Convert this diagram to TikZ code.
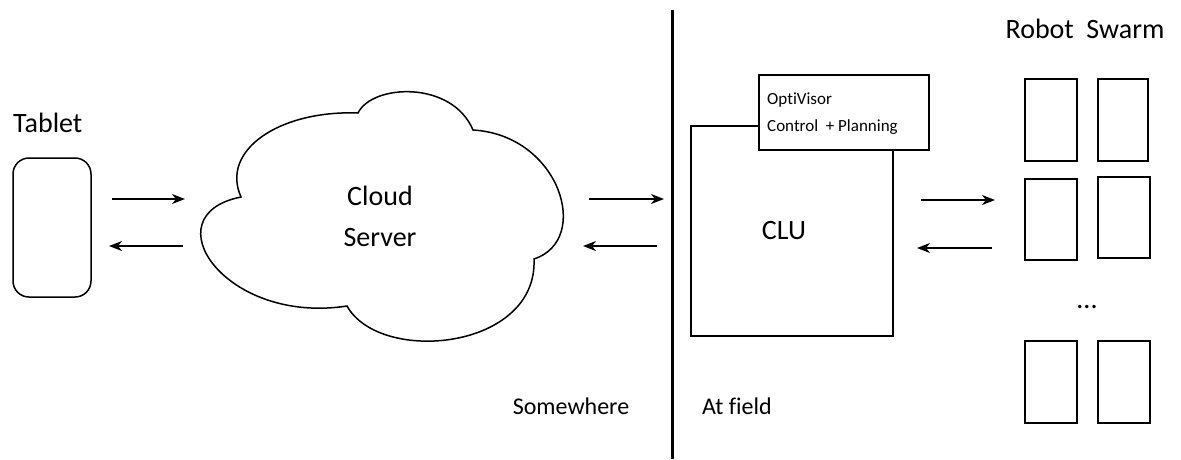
\documentclass[tikz,border=0pt]{standalone}
\usepackage{fontspec}
\setmainfont{Carlito}[RawFeature=-liga]
\usetikzlibrary{arrows.meta}
\begin{document}
\begin{tikzpicture}[x=1pt,y=-1pt,
  shape line/.style={draw=black, line width=1.5pt},
  flow/.style={draw=black, line width=1.5pt, -{Stealth[length=13pt,width=10pt,inset=4pt]}},
  bigtext/.style={font=\fontsize{28}{41}\selectfont, inner sep=0pt},
  midtext/.style={font=\fontsize{24}{30}\selectfont, inner sep=0pt},
  smalltext/.style={font=\fontsize{17}{27}\selectfont, inner sep=0pt},
  robot/.style={shape line, fill=white}]
\useasboundingbox (0,0) rectangle (1181,459);
% Tablet
\node[bigtext, anchor=base west] (tabletlabel) at (13,132) {Tablet};
\draw[shape line, rounded corners=16pt] (13,158) rectangle (91,297);
% Cloud
\draw[shape line] (241,197) .. controls (220,150) and (280,110) .. (358,113)
  .. controls (372,84) and (452,80) .. (473,130)
  .. controls (560,135) and (592,240) .. (534,259)
  .. controls (538,350) and (380,365) .. (347,306)
  .. controls (225,325) and (150,215) .. cycle;
\node[bigtext, align=center] (cloud) at (380,216) {Cloud\\Server};
% arrows tablet <-> cloud
\coordinate (a1s) at (112,199); \coordinate (a1e) at (185,199);
\coordinate (a2s) at (183,246); \coordinate (a2e) at (109,246);
\draw[flow] (a1s) -- (a1e);
\draw[flow] (a2s) -- (a2e);
% arrows cloud <-> CLU
\coordinate (b1s) at (589,199); \coordinate (b1e) at (664,199);
\coordinate (b2s) at (657,246); \coordinate (b2e) at (583,246);
\draw[flow] (b1s) -- (b1e);
\draw[flow] (b2s) -- (b2e);
% divider
\coordinate (divtop) at (672,10); \coordinate (divbot) at (672,459);
\draw[line width=3pt] (divtop) -- (divbot);
\node[midtext, anchor=base] (somewhere) at (571,414) {Somewhere};
\node[midtext, anchor=base] (atfield) at (737,414) {At field};
% CLU
\draw[shape line] (691,126) rectangle (893,336);
\node[bigtext] (clu) at (784,231) {CLU};
\draw[shape line, fill=white] (759,75) rectangle (929,150);
\node[smalltext, anchor=base west] (opti1) at (767,104) {OptiVisor};
\node[smalltext, anchor=base west] (opti2) at (767,131) {Control \ + Planning};
% arrows CLU <-> robots
\coordinate (c1s) at (921,200); \coordinate (c1e) at (995,200);
\coordinate (c2s) at (992,248); \coordinate (c2e) at (917,248);
\draw[flow] (c1s) -- (c1e);
\draw[flow] (c2s) -- (c2e);
% robots
\node[bigtext, anchor=base] (swarm) at (1085,38) {Robot \ Swarm};
\draw[robot] (1025,79) rectangle (1077,161);
\draw[robot] (1098,79) rectangle (1148,161);
\draw[robot] (1025,179) rectangle (1077,260);
\draw[robot] (1098,177) rectangle (1150,258);
\node[bigtext, anchor=base] (dots) at (1087,308) {...};
\draw[robot] (1025,341) rectangle (1077,423);
\draw[robot] (1098,341) rectangle (1150,423);
\end{tikzpicture}
\end{document}
